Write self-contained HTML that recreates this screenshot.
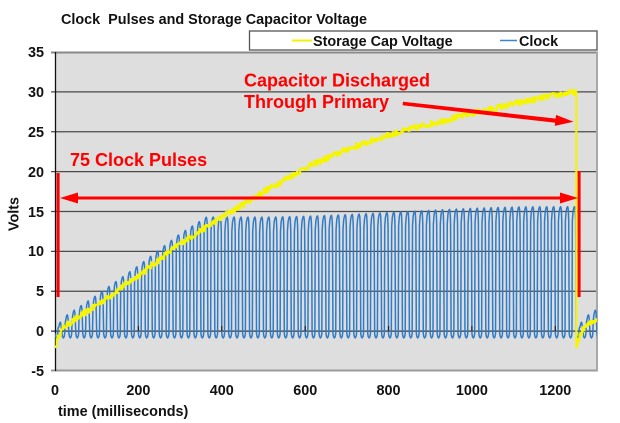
<!DOCTYPE html>
<html><head><meta charset="utf-8">
<style>
html,body{margin:0;padding:0;background:#fff;}
body{width:620px;height:423px;overflow:hidden;position:relative;font-family:"Liberation Sans",Arial,sans-serif;}
svg text{font-family:"Liberation Sans",Arial,sans-serif;font-weight:bold;}
</style></head><body>
<svg id="s" width="620" height="423" viewBox="0 0 620 423" xmlns="http://www.w3.org/2000/svg" style="position:absolute;left:0;top:0">
<defs><clipPath id="cp"><rect x="55" y="52" width="542" height="319"/></clipPath></defs>
<rect x="0" y="0" width="620" height="423" fill="#fff"/>
<rect x="55" y="52" width="542" height="319" fill="#dedede"/>
<g stroke="#4a4a4a" stroke-width="1.2">
<line x1="51" y1="91.9" x2="597" y2="91.9"/>
<line x1="51" y1="131.75" x2="597" y2="131.75"/>
<line x1="51" y1="171.6" x2="597" y2="171.6"/>
<line x1="51" y1="211.5" x2="597" y2="211.5"/>
<line x1="51" y1="251.4" x2="597" y2="251.4"/>
<line x1="51" y1="291.25" x2="597" y2="291.25"/>
<line x1="51" y1="331.1" x2="597" y2="331.1" stroke="#333"/>
</g>
<line x1="51" y1="52.5" x2="598" y2="52.5" stroke="#8a8a8a" stroke-width="2"/>
<line x1="51" y1="370.5" x2="598" y2="370.5" stroke="#9a9a9a" stroke-width="2"/>
<line x1="597" y1="52" x2="597" y2="371" stroke="#a8a8a8" stroke-width="2"/>
<line x1="55.5" y1="52" x2="55.5" y2="371" stroke="#111" stroke-width="1.3"/>

<g font-size="14.4" text-anchor="end" fill="#111">
<text x="44" y="57">35</text>
<text x="44" y="97">30</text>
<text x="44" y="137">25</text>
<text x="44" y="177">20</text>
<text x="44" y="217">15</text>
<text x="44" y="256">10</text>
<text x="44" y="296">5</text>
<text x="44" y="336">0</text>
<text x="44" y="376">-5</text>
</g>
<g font-size="14.4" text-anchor="middle" fill="#111">
<text x="55" y="395">0</text>
<text x="138.4" y="395">200</text>
<text x="221.8" y="395">400</text>
<text x="305.2" y="395">600</text>
<text x="388.5" y="395">800</text>
<text x="471.9" y="395">1000</text>
<text x="555.3" y="395">1200</text>
</g>
<text x="58" y="416" font-size="14.4" fill="#111">time (milliseconds)</text>
<text transform="translate(18.5,214) rotate(-90)" font-size="14.4" text-anchor="middle" fill="#111">Volts</text>
<text x="61" y="24" font-size="14.4" fill="#111" style="white-space:pre" xml:space="preserve">Clock  Pulses and Storage Capacitor Voltage</text>

<rect x="249.5" y="31" width="347.5" height="19" fill="#fff" stroke="#555" stroke-width="1.3"/>
<line x1="292" y1="40.5" x2="312" y2="40.5" stroke="#f2f200" stroke-width="2"/>
<text x="313" y="46" font-size="14.4" fill="#111">Storage Cap Voltage</text>
<line x1="500" y1="40.5" x2="517" y2="40.5" stroke="#3a86d0" stroke-width="1.5"/>
<text x="519" y="46" font-size="14.4" fill="#111">Clock</text>

<g clip-path="url(#cp)">
<path id="blue" d="" fill="none" stroke="#2f7bc8" stroke-width="1.5" stroke-linejoin="round"/>
<g stroke="#222" stroke-width="1.2">
<line x1="138.4" y1="326" x2="138.4" y2="331"/>
<line x1="221.8" y1="326" x2="221.8" y2="331"/>
<line x1="305.2" y1="326" x2="305.2" y2="331"/>
<line x1="388.5" y1="326" x2="388.5" y2="331"/>
<line x1="471.9" y1="326" x2="471.9" y2="331"/>
<line x1="555.3" y1="326" x2="555.3" y2="331"/>
</g>
<path id="yel" d="" fill="none" stroke="#f5f500" stroke-width="2" stroke-linejoin="miter"/>
</g>

<g fill="#ff0000">
<rect x="56.6" y="173" width="3" height="124"/>
<rect x="577.6" y="171" width="3" height="126"/>
<rect x="74" y="196.5" width="490" height="3"/>
<polygon points="60,198 78,192.5 78,203.5"/>
<polygon points="578,198 560,192.5 560,203.5"/>
<polygon points="403,101.8 556.2,118.6 555.6,122.8 402.6,105.2"/>
<polygon points="573.5,121.8 554.8,125.9 556.0,114.9"/>
</g>
<g font-size="18" fill="#ff0000">
<text x="70" y="166">75 Clock Pulses</text>
<text x="244" y="86.5">Capacitor Discharged</text>
<text x="244" y="108">Through Primary</text>
</g>
</svg>
<script>
(function(){
function X(t){return 55+t*542/1300;}
function Y(v){return 52+(35-v)*7.975;}
var P=[[0,-2],[8,-0.5],[20,0.5],[100,3.3],[200,7],[300,11],[400,14.3],[500,17.5],[600,20.5],[700,22.8],[800,24.6],[900,26],[1000,27.3],[1100,28.5],[1200,29.6],[1250,30]];
function Vb(t){ if(t<=0) return P[0][1]; for(var i=1;i<P.length;i++){ if(t<=P[i][0]){var a=P[i-1],b=P[i];return a[1]+(b[1]-a[1])*(t-a[0])/(b[0]-a[0]);}} return P[P.length-1][1]; }
var seed=12345; function rnd(){ seed=(seed*16807)%2147483647; return seed/2147483647; }
// yellow
var d="M"+X(0).toFixed(2)+","+Y(-2).toFixed(2);
var prev=-2;
for(var t=2;t<=1250;t+=2){
  var v=Vb(t)+(rnd()-0.5)*0.7;
  d+="L"+X(t).toFixed(2)+","+Y(prev).toFixed(2)+"L"+X(t).toFixed(2)+","+Y(v).toFixed(2);
  prev=v;
}
d+="L"+X(1250.2).toFixed(2)+","+Y(30.2).toFixed(2)+"L"+X(1250.4).toFixed(2)+","+Y(-2).toFixed(2);
prev=-2;
for(var t2=1252;t2<=1302;t2+=2){
  var v2=Vb(t2-1250)+(rnd()-0.5)*0.7;
  d+="L"+X(t2).toFixed(2)+","+Y(prev).toFixed(2)+"L"+X(t2).toFixed(2)+","+Y(v2).toFixed(2);
  prev=v2;
}
document.getElementById("yel").setAttribute("d",d);
// clock
var T=1250/75;
function L(t){var s=Math.min(1,Math.max(0,(t-480)/700)); s=s*s*(3-2*s); return 14.3+1.3*s;}
function peak(t){ if(t>=1250) return Vb(t-1250)+1.2; return Math.min(Vb(t)+1.2, L(t)); }
var shape=[[0,0,-0.3],[0.08,0,-0.7],[0.2,0,-0.85],[0.32,0,-0.7],[0.4,0,-0.3],[0.45,1,-1.8],[0.55,1,-0.6],[0.68,1,-0.1],[0.78,1,0],[0.86,1,-0.3],[0.9,1,-1.0],[0.93,1,-1.8]];
var c="";
for(var k=0;k*T<1310;k++){
  var t0=k*T, pk=peak(t0+0.78*T);
  for(var j=0;j<shape.length;j++){
    var s=shape[j], tt=t0+s[0]*T, vv;
    if(s[1]==0) vv=s[2]; else vv=Math.max(pk+s[2], -0.3+(pk+0.3)*0.5);
    c+=(c?"L":"M")+X(tt).toFixed(2)+","+Y(vv).toFixed(2);
  }
}
document.getElementById("blue").setAttribute("d",c);
})();
</script>
</body></html>
